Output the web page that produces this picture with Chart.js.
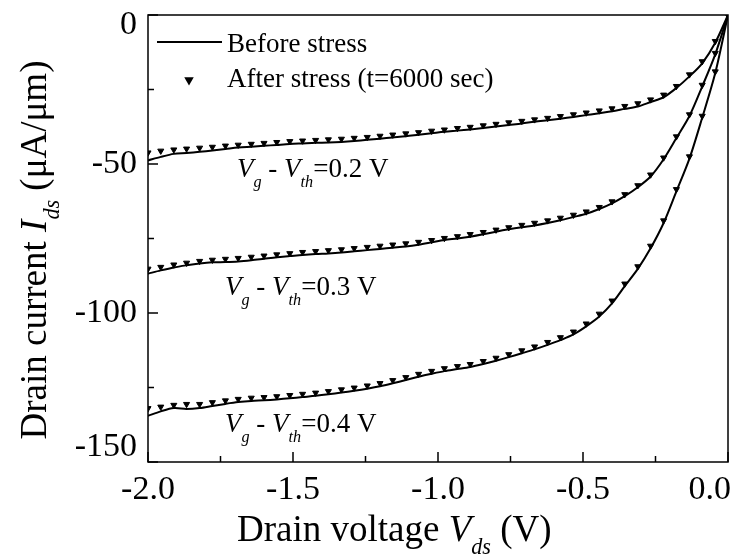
<!DOCTYPE html>
<html lang="en">
<head>
  <meta charset="UTF-8">
  <title>Drain current vs drain voltage</title>
  <style>
    body { margin: 0; background: #fff; }
    canvas { display: block; }
  </style>
</head>
<body>
  <canvas id="chart" width="733" height="556"></canvas>

  <script src="https://cdn.jsdelivr.net/npm/chart.js"></script>
  <script>
    // drain voltage (V), shared by all curves
    const vds = [-2.000, -1.956, -1.911, -1.867, -1.822, -1.778, -1.733, -1.689, -1.644, -1.600,
                 -1.556, -1.511, -1.467, -1.422, -1.378, -1.333, -1.289, -1.244, -1.200, -1.156,
                 -1.111, -1.067, -1.022, -0.978, -0.933, -0.889, -0.844, -0.800, -0.756, -0.711,
                 -0.667, -0.622, -0.578, -0.533, -0.489, -0.444, -0.400, -0.356, -0.311, -0.267,
                 -0.222, -0.178, -0.133, -0.089, -0.044, 0.000];

    // Vg - Vth = 0.2 V
    const before02 = [-48.8, -47.6, -46.6, -46.3, -45.9, -45.5, -45.0, -44.5, -44.2, -43.9,
                      -43.6, -43.3, -43.1, -42.9, -42.8, -42.6, -42.3, -41.9, -41.5, -41.1,
                      -40.7, -40.2, -39.7, -39.2, -38.8, -38.4, -37.9, -37.4, -36.9, -36.4,
                      -35.8, -35.3, -34.8, -34.2, -33.6, -33.0, -32.3, -31.5, -30.7, -29.2,
                      -27.6, -24.5, -20.6, -16.2, -9.3, 0];
    const after02 = [-46.2, -45.6, -45.2, -44.9, -44.6, -44.3, -43.9, -43.6, -43.3, -43.0,
                     -42.7, -42.4, -42.2, -42.0, -41.8, -41.6, -41.3, -41.0, -40.6, -40.2,
                     -39.8, -39.4, -38.9, -38.5, -38.0, -37.6, -37.1, -36.6, -36.1, -35.6,
                     -35.1, -34.6, -34.0, -33.4, -32.8, -32.1, -31.4, -30.6, -29.7, -28.4,
                     -26.8, -23.9, -20.0, -15.6, -8.8, 0];

    // Vg - Vth = 0.3 V
    const before03 = [-86.8, -85.7, -84.7, -84.0, -83.4, -83.0, -82.9, -82.7, -82.3, -81.8,
                      -81.3, -80.9, -80.5, -80.2, -80.0, -79.7, -79.3, -78.9, -78.5, -78.1,
                      -77.7, -77.1, -76.3, -75.5, -75.0, -74.4, -73.6, -72.7, -71.9, -71.2,
                      -70.6, -69.8, -68.9, -67.8, -66.7, -65.1, -63.2, -60.8, -57.8, -54.2,
                      -48.4, -41.3, -33.9, -24.0, -13.2, 0];
    const after03 = [-85.2, -84.6, -83.8, -83.2, -82.6, -82.2, -81.9, -81.6, -81.2, -80.8,
                     -80.4, -80.0, -79.6, -79.3, -79.0, -78.7, -78.3, -77.9, -77.5, -77.1,
                     -76.7, -76.2, -75.6, -74.9, -74.3, -73.6, -72.9, -72.1, -71.3, -70.5,
                     -69.8, -69.0, -68.1, -67.1, -66.0, -64.5, -62.6, -60.2, -57.2, -53.6,
                     -47.9, -40.8, -33.4, -23.5, -12.8, 0];

    // Vg - Vth = 0.4 V
    const before04 = [-134.5, -133.0, -131.9, -132.2, -131.9, -131.2, -130.5, -129.9, -129.5, -129.3,
                      -129.0, -128.6, -128.2, -127.8, -127.3, -126.7, -126.1, -125.4, -124.6, -123.6,
                      -122.5, -121.4, -120.4, -119.5, -118.8, -118.1, -117.1, -116.0, -114.8, -113.5,
                      -112.2, -110.7, -109.1, -107.2, -104.5, -101.2, -96.8, -91.0, -85.2, -78.3,
                      -69.8, -59.2, -48.2, -34.5, -19.5, 0];
    const after04 = [-132.0, -131.5, -130.9, -130.6, -130.6, -130.0, -129.4, -128.9, -128.5, -128.3,
                     -128.0, -127.6, -127.2, -126.8, -126.3, -125.7, -125.1, -124.4, -123.6, -122.6,
                     -121.6, -120.5, -119.5, -118.6, -117.9, -117.2, -116.2, -115.1, -113.9, -112.6,
                     -111.3, -109.8, -108.2, -106.3, -103.6, -100.3, -95.9, -90.2, -84.4, -77.5,
                     -69.0, -58.5, -47.5, -33.9, -19.0, 0];

    const xTicks = [-2.0, -1.5, -1.0, -0.5, 0.0];
    const xMinor = [-1.75, -1.25, -0.75, -0.25];
    const yTicks = [0, -50, -100, -150];
    const yMinor = [-25, -75, -125];

    const SERIF = '"Liberation Serif", "Times New Roman", serif';

    function pts(ys) {
      return vds.map((v, i) => ({ x: v, y: ys[i] }));
    }

    function lineSet(ys) {
      return {
        data: pts(ys), showLine: true, borderColor: '#000', borderWidth: 2,
        pointRadius: 0, tension: 0.3, fill: false
      };
    }

    function markerSet(ys) {
      return {
        data: pts(ys), showLine: false, pointStyle: 'triangle', rotation: 180,
        pointRadius: 3.5, backgroundColor: '#000', borderColor: '#000', borderWidth: 1
      };
    }

    // text with italic parts and subscripts, parts = [[text, style]]
    function drawRich(ctx, parts, x, y, size, measureOnly) {
      let cx = x;
      for (const [t, s] of parts) {
        const sub = s === 'sub';
        const fs = sub ? size * 0.6 : size;
        ctx.font = (s ? 'italic ' : '') + fs + 'px ' + SERIF;
        if (!measureOnly) ctx.fillText(t, cx, y + (sub ? size * 0.36 : 0));
        cx += ctx.measureText(t).width;
      }
      return cx - x;
    }

    function downTriangle(ctx, x, y, r) {
      ctx.beginPath();
      ctx.moveTo(x, y + r);
      ctx.lineTo(x - r * 0.866, y - r * 0.5);
      ctx.lineTo(x + r * 0.866, y - r * 0.5);
      ctx.closePath();
      ctx.fill();
    }

    const decorations = {
      id: 'decorations',
      afterDraw(chart) {
        const { ctx, chartArea: a, scales: { x, y } } = chart;
        ctx.save();
        ctx.fillStyle = '#000';
        ctx.strokeStyle = '#000';

        // frame
        ctx.lineWidth = 1.5;
        ctx.strokeRect(a.left, a.top, a.right - a.left, a.bottom - a.top);

        // inward ticks
        ctx.beginPath();
        xTicks.forEach(v => { const px = x.getPixelForValue(v); ctx.moveTo(px, a.bottom); ctx.lineTo(px, a.bottom - 10); });
        xMinor.forEach(v => { const px = x.getPixelForValue(v); ctx.moveTo(px, a.bottom); ctx.lineTo(px, a.bottom - 6); });
        yTicks.forEach(v => { const py = y.getPixelForValue(v); ctx.moveTo(a.left, py); ctx.lineTo(a.left + 10, py); });
        yMinor.forEach(v => { const py = y.getPixelForValue(v); ctx.moveTo(a.left, py); ctx.lineTo(a.left + 6, py); });
        ctx.stroke();

        // tick labels
        ctx.font = '34px ' + SERIF;
        ctx.textBaseline = 'middle';
        ctx.textAlign = 'center';
        xTicks.forEach(v => {
          const lab = v.toFixed(1);
          const w = ctx.measureText(lab).width;
          const px = Math.min(x.getPixelForValue(v), 731 - w / 2);
          ctx.fillText(lab, px, 490);
        });
        ctx.textAlign = 'right';
        yTicks.forEach(v => {
          const py = Math.max(25, Math.min(447, y.getPixelForValue(v)));
          ctx.fillText(String(v), a.left - 11, py);
        });

        // axis titles
        ctx.textAlign = 'left';
        ctx.textBaseline = 'alphabetic';
        drawRich(ctx, [['Drain voltage ', ''], ['V', 'i'], ['ds', 'sub'], [' (V)', '']], 237, 541, 37);

        const yTitle = [['Drain current ', ''], ['I', 'i'], ['ds', 'sub'], [' (\u03BCA/\u03BCm)', '']];
        const tw = drawRich(ctx, yTitle, 0, 0, 37, true);
        ctx.save();
        ctx.translate(46, 250);
        ctx.rotate(-Math.PI / 2);
        drawRich(ctx, yTitle, -tw / 2, 0, 37);
        ctx.restore();

        // curve labels
        const cl = (val) => [['V', 'i'], ['g', 'sub'], [' - ', ''], ['V', 'i'], ['th', 'sub'], ['=' + val + ' V', '']];
        drawRich(ctx, cl('0.2'), 237, 177, 27);
        drawRich(ctx, cl('0.3'), 225, 295, 27);
        drawRich(ctx, cl('0.4'), 225, 432, 27);

        // legend
        ctx.lineWidth = 2;
        ctx.beginPath();
        ctx.moveTo(157, 42);
        ctx.lineTo(222, 42);
        ctx.stroke();
        downTriangle(ctx, 189, 80, 5.5);
        ctx.font = '27px ' + SERIF;
        ctx.fillText('Before stress', 227, 52);
        ctx.fillText('After stress (t=6000 sec)', 227, 87);

        ctx.restore();
      }
    };

    new Chart(document.getElementById('chart'), {
      type: 'scatter',
      data: {
        datasets: [
          lineSet(before02), lineSet(before03), lineSet(before04),
          markerSet(after02), markerSet(after03), markerSet(after04)
        ]
      },
      options: {
        responsive: false,
        animation: false,
        layout: { padding: { top: 15, right: 4, left: 0, bottom: 0 } },
        plugins: { legend: { display: false }, tooltip: { enabled: false } },
        scales: {
          x: {
            type: 'linear', min: -2, max: 0,
            afterBuildTicks: s => { s.ticks = xTicks.map(v => ({ value: v })); },
            ticks: { display: false },
            grid: { display: false },
            border: { display: false },
            afterFit: s => { s.height = 94; s.paddingLeft = 0; s.paddingRight = 0; }
          },
          y: {
            type: 'linear', min: -150, max: 0,
            afterBuildTicks: s => { s.ticks = yTicks.map(v => ({ value: v })); },
            ticks: { display: false },
            grid: { display: false },
            border: { display: false },
            afterFit: s => { s.width = 148; s.paddingTop = 0; s.paddingBottom = 0; }
          }
        }
      },
      plugins: [decorations]
    });
  </script>
</body>
</html>
